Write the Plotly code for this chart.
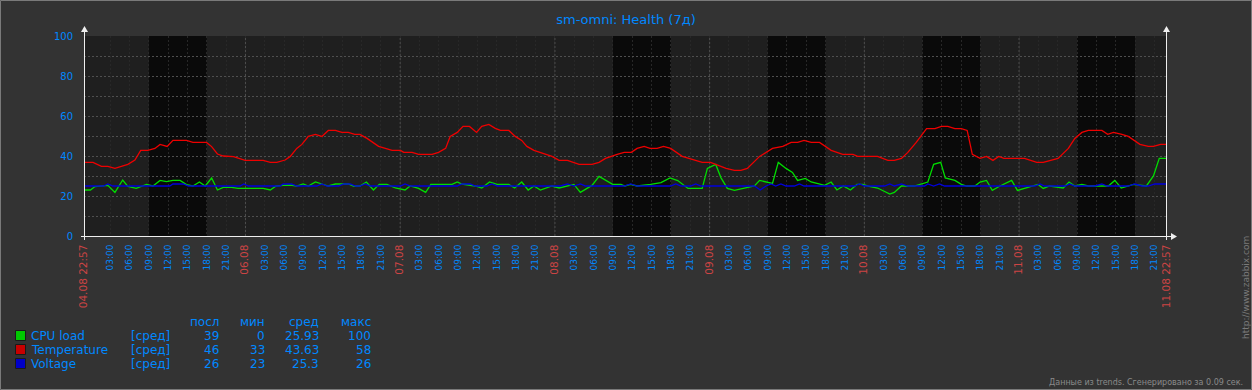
import pandas as pd
import plotly.graph_objects as go

# ---------------- data ----------------
START = pd.Timestamp("2016-08-04 22:57")
END = pd.Timestamp("2016-08-11 22:57")
TITLE = "sm-omni: Health (7д)"

# hours elapsed since START
cpu_hours = [0.1, 1.0, 1.7, 3.7, 4.8, 6.0, 6.8, 8.1, 9.7, 10.7,
             11.8, 12.8, 13.8, 14.9, 15.9, 16.9, 17.9, 18.8, 19.8, 20.7,
             21.6, 22.9, 23.9, 27.8, 28.9, 29.8, 30.9, 32.0, 33.0, 34.0,
             34.8, 35.9, 36.9, 37.9, 39.0, 41.0, 41.8, 42.8, 43.8, 44.9,
             45.8, 47.0, 48.3, 49.8, 50.6, 51.9, 53.0, 53.8, 57.1, 57.9,
             58.6, 60.7, 61.7, 62.9, 64.1, 65.9, 66.8, 67.9, 68.9, 69.8,
             70.8, 72.6, 73.7, 75.0, 76.0, 77.0, 78.1, 78.8, 79.9, 80.9,
             82.0, 83.3, 83.9, 84.8, 85.8, 87.9, 89.5, 90.9, 92.1, 93.7,
             95.9, 96.7, 98.0, 98.8, 99.8, 100.9, 102.9, 104.0, 104.8, 106.8,
             107.7, 108.9, 109.9, 110.7, 111.9, 112.8, 114.9, 115.9, 116.8, 117.8,
             118.9, 119.9, 120.8, 121.8, 123.1, 125.0, 125.7, 126.8, 128.8, 130.9,
             131.8, 132.9, 133.6, 135.1, 136.1, 136.9, 138.2, 139.0, 140.0, 140.9,
             142.1, 143.9, 144.8, 147.0, 148.0, 148.8, 149.8, 151.9, 152.8, 153.7,
             154.8, 155.8, 158.9, 159.9, 160.9, 162.8, 164.8, 165.9, 166.8, 168.0]
cpu_values = [23, 23, 24.7, 25.3, 21.8, 28, 24.8, 23.8, 25.8, 25,
              27.8, 27.2, 27.8, 27.8, 25.7, 25, 27, 25, 29, 23,
              24.3, 24.3, 23.8, 23.8, 23, 25, 25.3, 25.5, 25, 26,
              25, 27, 26, 25, 26, 26, 25, 25, 27, 23,
              25.8, 25.8, 24, 23, 25, 23.8, 21.8, 25.8, 25.8, 27,
              26, 25, 24, 27, 25.8, 25.8, 24, 27, 23, 25,
              23, 25, 24, 25, 25.8, 21.8, 24, 25.3, 29.8, 27.8,
              25.8, 25.8, 25, 25.8, 25, 25.8, 26.7, 29, 27.7, 23.8,
              23.8, 33.8, 35.8, 29.2, 23.8, 22.8, 24.3, 25, 27.8, 26.3,
              36.8, 33.8, 31.8, 27.8, 28.8, 27, 25.3, 27, 23, 25,
              23, 25.8, 25.8, 24.8, 24, 21, 21.8, 25, 25, 27,
              35.8, 36.8, 29, 27.8, 25.8, 25, 25, 27, 27.8, 22.8,
              25, 27.8, 22.8, 25, 25.8, 23.8, 25, 24, 27, 25,
              25.8, 25, 25, 27.8, 24, 25.8, 25, 30, 38.8, 38.8]

temp_hours = [0.1, 1.4, 2.7, 3.7, 4.8, 6.8, 7.9, 8.8, 9.9, 11.0,
              11.8, 12.9, 13.8, 15.9, 16.9, 19.0, 19.8, 20.7, 21.6, 23.2,
              25.0, 27.8, 28.9, 29.9, 31.2, 32.0, 33.0, 33.8, 34.8, 35.9,
              36.9, 37.9, 39.0, 40.0, 41.0, 42.0, 42.8, 43.9, 45.7, 47.8,
              49.1, 49.6, 50.9, 51.9, 54.0, 55.0, 56.1, 56.8, 57.9, 58.8,
              59.8, 60.9, 61.7, 62.8, 63.8, 64.6, 65.9, 66.9, 67.9, 68.7,
              69.8, 70.8, 72.6, 73.7, 75.0, 76.8, 78.8, 79.9, 80.9, 82.7,
              83.8, 84.9, 85.8, 86.9, 87.8, 88.9, 89.9, 91.0, 92.8, 95.9,
              97.2, 99.6, 100.9, 101.9, 102.9, 104.8, 106.8, 108.4, 109.7, 110.7,
              111.7, 112.8, 114.1, 115.9, 117.7, 119.3, 120.0, 123.1, 124.7, 125.7,
              126.8, 127.8, 129.1, 130.7, 132.0, 133.0, 134.0, 135.1, 136.1, 137.0,
              137.8, 139.0, 140.0, 141.0, 141.9, 142.7, 145.9, 147.8, 148.8, 151.1,
              152.7, 153.7, 154.8, 155.8, 157.9, 158.8, 159.7, 161.0, 162.0, 163.8,
              165.1, 165.9, 167.0, 168.0]
temp_values = [36.8, 36.8, 34.8, 34.8, 33.8, 35.8, 38, 42.8, 42.8, 43.8,
               45.8, 44.8, 47.8, 47.8, 46.8, 46.8, 44.7, 41, 40, 39.7,
               37.8, 37.8, 36.8, 36.8, 38, 39.8, 43.8, 45.8, 49.8, 50.8,
               49.8, 52.8, 52.8, 51.8, 51.8, 50.8, 50.8, 48.8, 44.8, 42.8,
               42.8, 41.8, 41.8, 40.8, 40.8, 41.8, 43.8, 49.8, 51.8, 54.8,
               54.8, 51.8, 54.8, 55.8, 53.8, 52.8, 52.8, 49.8, 47.8, 44.8,
               42.8, 41.8, 39.8, 37.8, 37.8, 35.8, 35.8, 36.8, 38.8, 40.8,
               41.8, 41.8, 43.8, 44.8, 43.8, 43.8, 44.8, 43.8, 39.8, 36.8,
               36.8, 33.8, 32.8, 32.8, 33.8, 39.8, 43.8, 44.8, 46.8, 46.8,
               47.8, 46.8, 46.8, 42.8, 40.8, 40.8, 39.8, 39.8, 37.8, 37.8,
               38.8, 41.8, 46.8, 53.7, 53.7, 54.8, 54.8, 53.7, 53.7, 52.8,
               40.8, 38.8, 39.8, 37.8, 39.8, 38.8, 38.8, 36.8, 36.8, 38.8,
               43.8, 48.8, 51.8, 52.8, 52.8, 50.8, 51.8, 50.8, 49.8, 45.8,
               44.8, 44.8, 45.8, 45.8]

volt_hours = [0.1, 3.0, 3.7, 4.5, 13.3, 13.8, 15.4, 16.2, 24.2, 24.8,
              25.5, 30.4, 30.9, 32.2, 33.0, 36.1, 36.9, 37.7, 39.5, 40.3,
              41.3, 42.1, 42.8, 43.6, 44.4, 49.1, 49.8, 50.6, 57.9, 58.6,
              59.9, 60.7, 62.5, 63.3, 64.1, 73.9, 75.0, 76.0, 77.0, 77.8,
              83.8, 84.8, 85.8, 91.0, 91.8, 92.6, 94.1, 94.9, 95.7, 104.0,
              104.9, 105.8, 106.6, 107.3, 108.1, 108.9, 110.2, 111.0, 111.7, 119.5,
              120.3, 121.1, 124.2, 125.0, 125.7, 126.8, 127.8, 130.4, 130.9, 131.8,
              132.7, 133.5, 147.5, 148.3, 149.0, 152.2, 152.9, 153.7, 156.8, 157.9,
              158.7, 162.0, 163.0, 164.1, 165.1, 166.1, 168.0]
volt_values = [25, 25, 26, 25, 25, 26, 26, 25, 25, 26,
               25, 25, 26, 26, 25, 25, 26, 25, 25, 26,
               26, 25, 25, 26, 25, 25, 26, 25, 25, 26,
               26, 25, 25, 26, 25, 25, 26, 25, 26, 25,
               25, 26, 25, 25, 26, 25, 25, 26, 25, 25,
               23, 25, 26, 25, 26, 25, 25, 26, 25, 25,
               26, 25, 25, 26, 25, 26, 25, 25, 26, 25,
               26, 25, 25, 26, 25, 25, 26, 25, 25, 26,
               25, 25, 26, 25, 25, 26, 26]

series_names = ["CPU load", "Temperature", "Voltage"]
series_func = ["[сред]", "[сред]", "[сред]"]
stat_headers = ["посл", "мин", "сред", "макс"]
stat_last = ["39", "46", "26"]
stat_min = ["0", "33", "23"]
stat_avg = ["25.93", "43.63", "25.3"]
stat_max = ["100", "58", "26"]
footer_text = "Данные из trends. Сгенерировано за 0.09 сек."
side_text = "http://www.zabbix.com"

# ---------------- style ----------------
W, H = 1252, 390
PL, PR, PT, PB = 84, 1167, 36, 236
BG = "#333333"
NONWORK = "#1F1F1F"
WORK = "#0A0A0A"
MINOR_GRID = "#282828"
MAIN_GRID = "#4F4F4F"
AXIS = "#EFEFEF"
TEXT = "#0088FF"
HIGHLIGHT = "#CC4444"
FONT = "DejaVu Sans"
LEG_SIZE = 12
line_colors = ["#00DD00", "#EE0000", "#0000DD"]
box_colors = ["#00C800", "#C80000", "#0000C8"]


def fx(px):
    return (px - PL) / (PR - PL)


def fy(py):
    return (PB - py) / (PB - PT)


def to_time(hours):
    return START + pd.to_timedelta(pd.Series(hours), unit="h")


fig = go.Figure()
for name, hrs, vals, col in zip(series_names,
                                [cpu_hours, temp_hours, volt_hours],
                                [cpu_values, temp_values, volt_values],
                                line_colors):
    fig.add_trace(go.Scatter(x=to_time(hrs), y=vals, mode="lines", name=name,
                             line=dict(color=col, width=1.3), hoverinfo="skip",
                             showlegend=False))

# ---------------- time ticks ----------------
red_span = '<span style="color:' + HIGHLIGHT + ';font-size:10.5px">{}</span>'
tickvals = [START]
ticktext = [red_span.format(f"{START:%d.%m %H:%M}")]
day_lines = []
t = pd.Timestamp("2016-08-05 03:00")
while t < END:
    tickvals.append(t)
    if t.hour == 0:
        ticktext.append(red_span.format(f"{t:%d.%m}"))
        day_lines.append(t)
    else:
        ticktext.append(f"{t:%H:%M}")
    t += pd.Timedelta(hours=3)
tickvals.append(END)
ticktext.append(red_span.format(f"{END:%d.%m %H:%M}"))

shapes = []
# working time (Mon-Fri 09:00-18:00)
for d in pd.date_range("2016-08-05", "2016-08-11", freq="D"):
    if d.weekday() < 5:
        shapes.append(dict(type="rect", xref="x", yref="paper",
                           x0=d + pd.Timedelta(hours=9), x1=d + pd.Timedelta(hours=18),
                           y0=0, y1=1, fillcolor=WORK, line=dict(width=0), layer="below"))
for d in day_lines:
    shapes.append(dict(type="line", xref="x", yref="paper", x0=d, x1=d, y0=0, y1=1,
                       line=dict(color=MAIN_GRID, width=1, dash="2px,2px"), layer="between"))

# axes lines + arrows
ax_line = dict(color=AXIS, width=1)
shapes += [
    dict(type="line", xref="paper", yref="paper", x0=fx(84.5), x1=fx(84.5), y0=fy(240), y1=fy(31), line=ax_line),
    dict(type="line", xref="paper", yref="paper", x0=fx(1166.5), x1=fx(1166.5), y0=fy(240), y1=fy(31), line=ax_line),
    dict(type="line", xref="paper", yref="paper", x0=fx(81), x1=fx(1171), y0=fy(236.5), y1=fy(236.5), line=ax_line),
    dict(type="path", xref="paper", yref="paper",
         path=f"M {fx(81)},{fy(32)} L {fx(88)},{fy(32)} L {fx(84.5)},{fy(26)} Z",
         fillcolor=AXIS, line=dict(width=0)),
    dict(type="path", xref="paper", yref="paper",
         path=f"M {fx(1163)},{fy(32)} L {fx(1170)},{fy(32)} L {fx(1166.5)},{fy(26)} Z",
         fillcolor=AXIS, line=dict(width=0)),
    dict(type="path", xref="paper", yref="paper",
         path=f"M {fx(1171)},{fy(233)} L {fx(1171)},{fy(240)} L {fx(1177)},{fy(236.5)} Z",
         fillcolor=AXIS, line=dict(width=0)),
    dict(type="rect", xref="paper", yref="paper", x0=fx(0.5), x1=fx(1251.5), y0=fy(389.5), y1=fy(0.5),
         line=dict(color="#7A7A7A", width=1), fillcolor="rgba(0,0,0,0)"),
]

# ---------------- legend table ----------------
annotations = []
row_y = [336, 350, 364]
col_right = [221, 267, 321, 373]
leg_font = dict(family=FONT, size=LEG_SIZE, color=TEXT)
for hdr, cx in zip(stat_headers, col_right):
    annotations.append(dict(xref="paper", yref="paper", x=fx(cx), y=fy(322), text=hdr,
                            showarrow=False, xanchor="right", yanchor="middle", font=leg_font))
for i, name in enumerate(series_names):
    ry = row_y[i]
    shapes.append(dict(type="rect", xref="paper", yref="paper",
                       x0=fx(15.5), x1=fx(25.5), y0=fy(ry + 4.5), y1=fy(ry - 5.5),
                       fillcolor=box_colors[i], line=dict(color="#1A1A1A", width=1)))
    annotations.append(dict(xref="paper", yref="paper", x=fx(29), y=fy(ry), text=name,
                            showarrow=False, xanchor="left", yanchor="middle", font=leg_font))
    annotations.append(dict(xref="paper", yref="paper", x=fx(129), y=fy(ry), text=series_func[i],
                            showarrow=False, xanchor="left", yanchor="middle", font=leg_font))
    for vals, cx in zip([stat_last, stat_min, stat_avg, stat_max], col_right):
        annotations.append(dict(xref="paper", yref="paper", x=fx(cx), y=fy(ry), text=vals[i],
                                showarrow=False, xanchor="right", yanchor="middle", font=leg_font))

annotations.append(dict(xref="paper", yref="paper", x=fx(1245), y=fy(382), text=footer_text,
                        showarrow=False, xanchor="right", yanchor="middle",
                        font=dict(family=FONT, size=8, color="#8A8A8A")))
annotations.append(dict(xref="paper", yref="paper", x=fx(1246), y=fy(288), text=side_text,
                        showarrow=False, textangle=-90, xanchor="center", yanchor="middle",
                        font=dict(family=FONT, size=9, color="#7A7A7A")))

yvals = list(range(0, 101, 10))
ytext = [str(v) if v % 20 == 0 else "" for v in yvals]

fig.update_layout(
    width=W, height=H, autosize=False,
    margin=dict(l=PL, r=W - PR, t=PT, b=H - PB, pad=0),
    paper_bgcolor=BG, plot_bgcolor=NONWORK,
    title=dict(text=TITLE, x=0.5, xref="container", xanchor="center",
               y=1 - 19 / H, yref="container", yanchor="middle",
               font=dict(family=FONT, size=13, color=TEXT)),
    xaxis=dict(type="date", range=[START, END], tickmode="array", tickvals=tickvals,
               ticktext=ticktext, tickangle=-90, showgrid=True, gridcolor=MINOR_GRID,
               griddash="2px,2px", gridwidth=1, zeroline=False, showline=False,
               ticks="outside", ticklen=4, tickcolor="rgba(0,0,0,0)",
               tickfont=dict(family=FONT, size=9, color=TEXT)),
    yaxis=dict(range=[0, 100], tickmode="array", tickvals=yvals, ticktext=ytext,
               showgrid=True, gridcolor=MAIN_GRID, griddash="2px,2px", gridwidth=1,
               zeroline=False, showline=False, ticks="outside", ticklen=8,
               tickcolor="rgba(0,0,0,0)", tickfont=dict(family=FONT, size=10, color=TEXT)),
    yaxis2=dict(range=[0, 100], overlaying="y", side="right", tickmode="array",
                tickvals=[0, 50, 100], showgrid=False, zeroline=False, showline=False,
                ticks="outside", ticklen=9, tickcolor="rgba(0,0,0,0)",
                tickfont=dict(family=FONT, size=10, color=TEXT)),
    shapes=shapes, annotations=annotations, showlegend=False,
)

fig.write_html("out.html", config={"displayModeBar": False},
               post_script="document.body.style.margin='0';document.body.style.padding='0';")
